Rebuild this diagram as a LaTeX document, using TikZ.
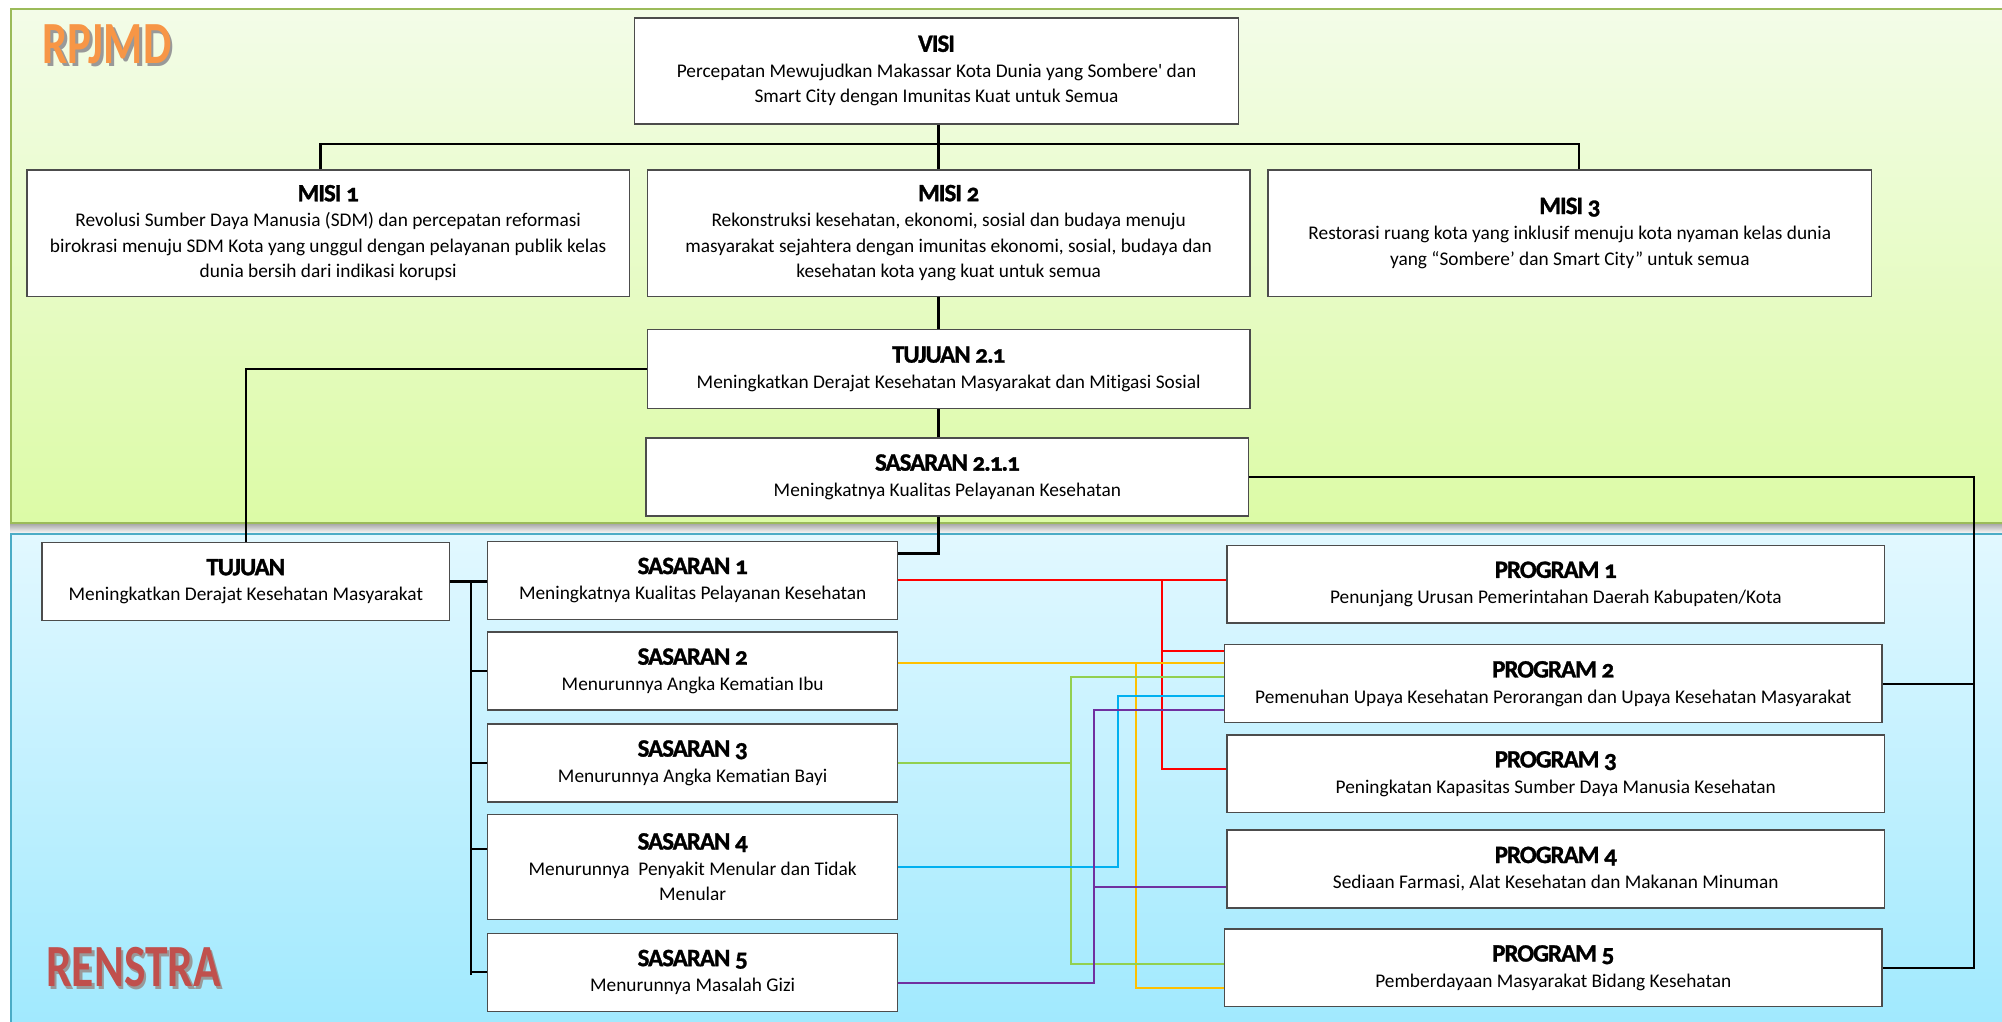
\documentclass[tikz,border=0pt]{standalone}
\usepackage{graphicx}
\usepackage{fontspec}
\setmainfont{Carlito}[Ligatures=NoCommon]
\newfontfamily\judulfont{Carlito}[Numbers=OldStyle, LetterSpace=-4, FakeBold=1.2]
\usetikzlibrary{calc}

\definecolor{hijaumuda}{HTML}{F3FCE8}
\definecolor{hijauisi}{HTML}{DCFBA6}
\definecolor{hijaugaris}{HTML}{9BBB59}
\definecolor{birumuda}{HTML}{E2F8FF}
\definecolor{biruisi}{HTML}{A0E9FE}
\definecolor{birugaris}{HTML}{4BACC6}
\definecolor{oranye}{HTML}{F79646}
\definecolor{oranyetua}{HTML}{E46C0A}
\definecolor{merahbata}{HTML}{C0504D}
\definecolor{kuning}{HTML}{FFC000}
\definecolor{hijaulink}{HTML}{92D050}
\definecolor{birulink}{HTML}{00B0F0}
\definecolor{ungu}{HTML}{7030A0}

\newcommand{\judul}[1]{{\judulfont\bfseries\fontsize{12.5}{14}\selectfont #1}}

\tikzset{
  kotak/.style 2 args={draw=black!70, fill=white, line width=0.7pt,
    minimum width=#1*0.64pt, minimum height=#2*0.64pt, align=center,
    inner sep=1pt, font=\fontsize{9.7}{12.8}\selectfont},
  garis/.style={line width=1.2pt},
  link/.style={line width=1pt},
  label besar/.style={anchor=base west, inner sep=0pt, font=\fontsize{30}{30}\selectfont\bfseries},
}

\begin{document}
\begin{tikzpicture}[x=0.64pt, y=-0.64pt]
  \useasboundingbox (0,0) rectangle (1568,800);
  % panel RPJMD dan RENSTRA
  \shade[top color=gray!70, bottom color=white] (8,410) rectangle (1572,418);
  \shadedraw[top color=hijaumuda, bottom color=hijauisi, draw=hijaugaris, line width=1pt] (8.5,7) rectangle (1575,410);
  \shadedraw[top color=birumuda, bottom color=biruisi, draw=birugaris, line width=1pt] (8.5,418) rectangle (1575,805);

  % judul panel
  \node (rpjmdbayang) [label besar, text=black!40] at (35,52) {\scalebox{0.75}[1]{RPJMD}};
  \node (rpjmd) [label besar, text=oranye] at (33,50) {\scalebox{0.75}[1]{RPJMD}};
  \node (renstrabayang) [label besar, text=black!40] at (38,775) {\scalebox{0.76}[1]{RENSTRA}};
  \node (renstra) [label besar, text=merahbata] at (36,773) {\scalebox{0.76}[1]{RENSTRA}};

  % RPJMD
  \node (visi) [kotak={473}{83}] at (733.5,55.5) {\judul{VISI}\\ Percepatan Mewujudkan Makassar Kota Dunia yang Sombere\textquotesingle{} dan\\ Smart City dengan Imunitas Kuat untuk Semua};
  \node (misi1) [kotak={472}{99}] at (257,182.5) {\judul{MISI 1}\\ Revolusi Sumber Daya Manusia (SDM) dan percepatan reformasi\\ birokrasi menuju SDM Kota yang unggul dengan pelayanan publik kelas\\ dunia bersih dari indikasi korupsi};
  \node (misi2) [kotak={472}{99}] at (743,182.5) {\judul{MISI 2}\\ Rekonstruksi kesehatan, ekonomi, sosial dan budaya menuju\\ masyarakat sejahtera dengan imunitas ekonomi, sosial, budaya dan\\ kesehatan kota yang kuat untuk semua};
  \node (misi3) [kotak={473}{99}] at (1229.5,182.5) {\judul{MISI 3}\\ Restorasi ruang kota yang inklusif menuju kota nyaman kelas dunia\\ yang “Sombere’ dan Smart City” untuk semua};
  \node (tujuan21) [kotak={472}{62}] at (743,289) {\judul{TUJUAN 2.1}\\ Meningkatkan Derajat Kesehatan Masyarakat dan Mitigasi Sosial};
  \node (sasaran211) [kotak={472}{61}] at (742,373.5) {\judul{SASARAN 2.1.1}\\ Meningkatnya Kualitas Pelayanan Kesehatan};

  % RENSTRA
  \node (tujuan) [kotak={319}{61}] at (192.5,455.5) {\judul{TUJUAN}\\ Meningkatkan Derajat Kesehatan Masyarakat};
  \foreach \i/\y/\h/\teks in {
    1/454.5/61/{Meningkatnya Kualitas Pelayanan Kesehatan},
    2/525.5/61/{Menurunnya Angka Kematian Ibu},
    3/597.5/61/{Menurunnya Angka Kematian Bayi},
    4/679/82/{Menurunnya\ \ Penyakit Menular dan Tidak\\ Menular},
    5/761.5/61/{Menurunnya Masalah Gizi}}
    \node (sasaran\i) [kotak={321}{\h}] at (542.5,\y) {\judul{SASARAN \i}\\ \teks};
  \foreach \i/\x/\y/\teks in {
    1/1218.5/457.5/{Penunjang Urusan Pemerintahan Daerah Kabupaten/Kota},
    2/1216.5/535.5/{Pemenuhan Upaya Kesehatan Perorangan dan Upaya Kesehatan Masyarakat},
    3/1218.5/606/{Peningkatan Kapasitas Sumber Daya Manusia Kesehatan},
    4/1218.5/680.5/{Sediaan Farmasi, Alat Kesehatan dan Makanan Minuman},
    5/1216.5/758/{Pemberdayaan Masyarakat Bidang Kesehatan}}
    \node (program\i) [kotak={515}{61}] at (\x,\y) {\judul{PROGRAM \i}\\ \teks};

  % garis hitam
  \coordinate (bar) at (735,113);
  \draw[garis] (visi.south -| bar) -- (misi2.north -| bar);
  \draw[garis] ($(misi1.north)+(-6,0)$) |- (bar) -| ($(misi3.north)+(7,0)$);
  \draw[garis] (misi2.south -| bar) -- (tujuan21.north -| bar);
  \draw[garis] (tujuan21.south -| bar) -- (sasaran211.north -| bar);
  \draw[garis] (tujuan21.west) -| (tujuan.north);
  \draw[garis] (sasaran211.south -| bar) |- ($(sasaran1.north east)+(0,10)$);
  \coordinate (kanan) at (1546,0);
  \draw[garis] (sasaran211.east) -| (kanan |- program5.east) -- (program5.east);
  \draw[garis] (program2.east) -- (program2.east -| kanan);
  \coordinate (kiri) at (369,0);
  \draw[garis] (tujuan.east) -- (tujuan.east -| sasaran1.west);
  \draw[garis] (kiri |- tujuan.east) -- ($(kiri |- sasaran5.west)+(0,2)$);
  \foreach \i/\dy in {2/0,3/0,4/-14,5/0}
    \draw[garis] ($(kiri |- sasaran\i.west)+(0,\dy)$) -- ($(sasaran\i.west)+(0,\dy)$);

  % garis warna sasaran -> program
  \coordinate (m) at (910,0);
  \coordinate (k) at (890,0);
  \coordinate (h) at (839,0);
  \coordinate (b) at (876,0);
  \coordinate (u) at (857,0);
  % sasaran 1
  \draw[link, red] (sasaran1.east) -- (sasaran1.east -| program1.west);
  \draw[link, red] (m |- sasaran1.east) |- ($(program3.west)+(0,-4)$);
  \draw[link, red] ($(m |- program2.west)+(0,-25.5)$) -- ($(program2.west)+(0,-25.5)$);
  % sasaran 2
  \draw[link, kuning] ($(sasaran2.east)+(0,-6.5)$) -- ($(program2.west)+(0,-16.5)$);
  \draw[link, kuning] ($(k |- program2.west)+(0,-16.5)$) |- ($(program5.west)+(0,16)$);
  % sasaran 3
  \draw[link, hijaulink] (sasaran3.east) -- (sasaran3.east -| h);
  \draw[link, hijaulink] ($(program2.west)+(0,-5.5)$) -| ($(h |- program5.west)+(0,-3)$) -- ($(program5.west)+(0,-3)$);
  % sasaran 4
  \draw[link, birulink] (sasaran4.east) -| ($(b |- program2.west)+(0,9.5)$) -- ($(program2.west)+(0,9.5)$);
  % sasaran 5
  \draw[link, ungu] ($(sasaran5.east)+(0,8.5)$) -| ($(u |- program2.west)+(0,20.5)$) -- ($(program2.west)+(0,20.5)$);
  \draw[link, ungu] ($(u |- program4.west)+(0,14.5)$) -- ($(program4.west)+(0,14.5)$);
\end{tikzpicture}
\end{document}
